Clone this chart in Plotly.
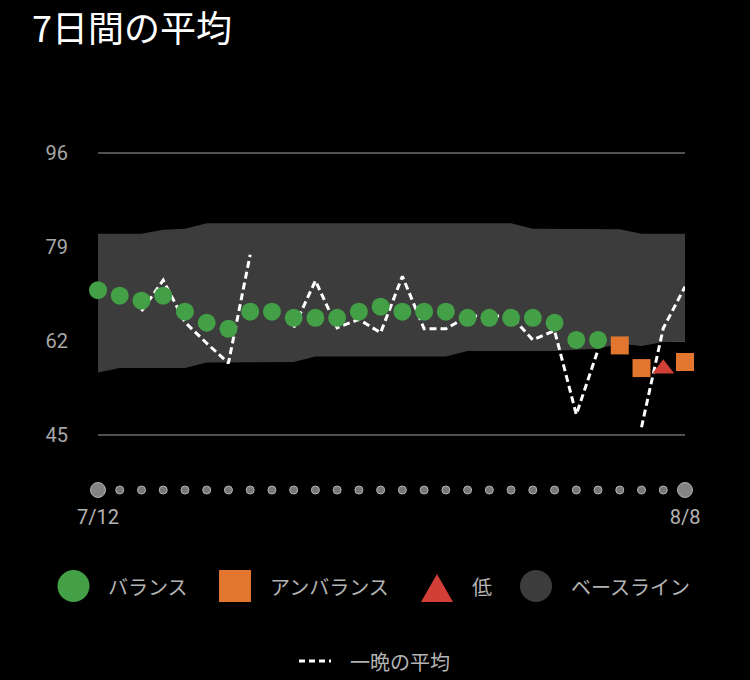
import plotly.graph_objects as go

# 7-day average vs baseline band, last 4 weeks

dates = ["7/12", "7/13", "7/14", "7/15", "7/16", "7/17", "7/18", "7/19", "7/20", "7/21",
         "7/22", "7/23", "7/24", "7/25", "7/26", "7/27", "7/28", "7/29", "7/30", "7/31",
         "8/1", "8/2", "8/3", "8/4", "8/5", "8/6", "8/7", "8/8"]

avg_7day = [71.2, 70.2, 69.3, 70.2, 67.3, 65.3, 64.2, 67.3, 67.3, 66.2,
            66.2, 66.2, 67.3, 68.2, 67.3, 67.3, 67.3, 66.2, 66.2, 66.2,
            66.2, 65.3, 62.2, 62.2, 61.2, 57.1, 57.0, 58.2]
status = ["balance"] * 24 + ["unbalance", "unbalance", "low", "unbalance"]

nightly = [None, None, 67.4, 73.0, 65.4, 61.6, 58.0, 77.6, None, 64.4,
           72.9, 64.4, 65.9, 63.5, 73.7, 64.2, 64.2, 66.5, 66.5, 66.5,
           62.2, 63.9, 48.7, 60.4, None, 46.4, 64.3, 71.8]

baseline_low = [56.3, 57.1, 57.1, 57.1, 57.1, 58.1, 58.1, 58.1, 58.1, 58.2,
                59.2, 59.2, 59.2, 59.2, 59.2, 59.2, 59.2, 60.2, 60.2, 60.2,
                60.2, 60.2, 60.4, 60.6, 61.5, 61.1, 61.8, 62.0]
baseline_high = [81.4, 81.4, 81.4, 82.1, 82.3, 83.3, 83.3, 83.3, 83.3, 83.3,
                 83.3, 83.3, 83.3, 83.3, 83.3, 83.3, 83.3, 83.3, 83.3, 83.3,
                 82.3, 82.3, 82.3, 82.3, 82.2, 81.4, 81.4, 81.4]

y_ticks = [45, 62, 79, 96]
first_last = ["7/12", "8/8"]

legend_items = ["バランス", "アンバランス", "低", "ベースライン"]
nightly_label = "一晩の平均"
title = "7日間の平均"

GREEN = "#43a047"
ORANGE = "#e2762f"
RED = "#d23f36"
BAND = "#3c3c3c"
GREY_TXT = "#b4b4b4"
JP = "Noto Sans CJK JP"


def pick(kind):
    return [v if s == kind else None for v, s in zip(avg_7day, status)]


fig = go.Figure()

# baseline band
fig.add_trace(go.Scatter(x=dates, y=baseline_low, mode="lines", line=dict(width=0),
                         hoverinfo="skip", showlegend=False))
fig.add_trace(go.Scatter(x=dates, y=baseline_high, mode="lines", line=dict(width=0),
                         fill="tonexty", fillcolor=BAND, hoverinfo="skip", showlegend=False))

# nightly average
fig.add_trace(go.Scatter(x=dates, y=nightly, mode="lines", connectgaps=False,
                         line=dict(color="white", width=3, dash="7px,4px"),
                         showlegend=False))

fig.add_trace(go.Scatter(x=dates, y=pick("balance"), mode="markers", cliponaxis=False,
                         marker=dict(color=GREEN, size=18, symbol="circle"), showlegend=False))
fig.add_trace(go.Scatter(x=dates, y=pick("unbalance"), mode="markers", cliponaxis=False,
                         marker=dict(color=ORANGE, size=18, symbol="square"), showlegend=False))
fig.add_trace(go.Scatter(x=dates, y=pick("low"), mode="markers",
                         marker=dict(color=RED, size=19, symbol="triangle-up"), showlegend=False))

# date dots row
dot_size = [15 if d in first_last else 8 for d in dates]
dot_col = ["#bdbdbd" if d in first_last else "#a8a8a8" for d in dates]
fig.add_trace(go.Scatter(x=dates, y=[0] * len(dates), yaxis="y2", mode="markers",
                         marker=dict(size=dot_size, color=dot_col), cliponaxis=False,
                         hoverinfo="skip", showlegend=False))

# pixel-space overlay for the custom legend
fig.add_trace(go.Scatter(x=[73.5, 235, 536], y=[586, 586, 586], xaxis="x3", yaxis="y3",
                         mode="markers",
                         marker=dict(size=32, color=[GREEN, ORANGE, "#3c3c3c"],
                                     symbol=["circle", "square", "circle"]),
                         hoverinfo="skip", showlegend=False))

fig.add_shape(type="path", xref="x3", yref="y3", path="M 421,602 L 453,602 L 437,574 Z",
              fillcolor=RED, line=dict(width=0))
fig.add_shape(type="line", xref="x3", yref="y3", x0=299, x1=331, y0=661, y1=661,
              line=dict(color="white", width=3, dash="6px,4px"))

for x, txt in zip([106, 268, 470, 569], legend_items):
    fig.add_annotation(x=x, y=586, xref="x3", yref="y3", text=txt, showarrow=False,
                       xanchor="left", yanchor="middle",
                       font=dict(family=JP, size=20, color=GREY_TXT))
fig.add_annotation(x=348, y=661, xref="x3", yref="y3", text=nightly_label, showarrow=False,
                   xanchor="left", yanchor="middle", font=dict(family=JP, size=20, color=GREY_TXT))
fig.add_annotation(x=31, y=26, xref="x3", yref="y3", text=title, showarrow=False,
                   xanchor="left", yanchor="middle", borderpad=0,
                   font=dict(family=JP, size=36, color="white"))

fig.update_layout(
    width=750, height=680,
    margin=dict(l=0, r=0, t=0, b=0, autoexpand=False),
    paper_bgcolor="black", plot_bgcolor="rgba(0,0,0,0)",
    xaxis=dict(domain=[98 / 750, 685 / 750], type="category", range=[0, 27], anchor="y2",
               showgrid=False, zeroline=False, showline=False, ticks="", automargin=False,
               tickvals=first_last, ticktext=first_last, ticklabelstandoff=5,
               tickfont=dict(family="Roboto", size=20, color=GREY_TXT)),
    yaxis=dict(domain=[1 - 462.65 / 680, 1 - 125.35 / 680], range=[40, 101], anchor="x",
               tickvals=y_ticks, showgrid=True, gridcolor="#505050", gridwidth=2,
               zeroline=False, showline=False, ticklabelstandoff=29, automargin=False,
               tickfont=dict(family="Roboto", size=20, color="#a8a8a8")),
    yaxis2=dict(domain=[1 - 498 / 680, 1 - 482 / 680], range=[-1, 1], anchor="x",
                visible=False, automargin=False),
    xaxis3=dict(domain=[0, 1], range=[0, 750], anchor="y3", visible=False, automargin=False),
    yaxis3=dict(domain=[0, 1], range=[680, 0], anchor="x3", visible=False, automargin=False),
)

# drop the default page margin so the figure sits flush in the window
fig.write_html("out.html", config={"displayModeBar": False},
               post_script="document.body.style.margin='0';document.body.style.background='black';")
